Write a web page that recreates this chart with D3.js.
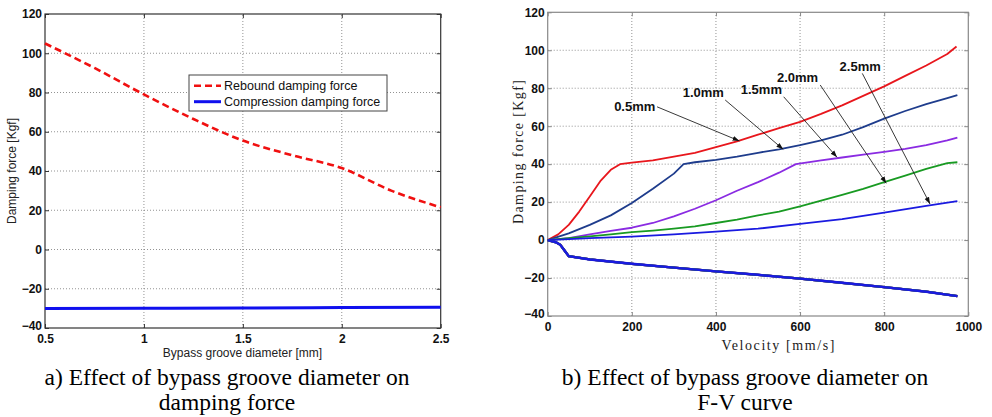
<!DOCTYPE html>
<html>
<head>
<meta charset="utf-8">
<script src="https://cdn.jsdelivr.net/npm/d3@7"></script>
<style>
  body { margin: 0; background: #fff; }
  svg { display: block; }
</style>
</head>
<body>
<script>
var width = 992,
    height = 417;

// -- left chart data (bypass groove diameter vs damping force)
var diameters = [0.5, 0.75, 1, 1.25, 1.5, 1.75, 2, 2.25, 2.5];
var rebound = [105, 92.5, 79, 66.5, 55.5, 48, 41.5, 30, 21.5];
var compDiameters = [0.5, 1, 1.5, 2, 2.5];
var compression = [-30, -29.9, -29.8, -29.6, -29.4];
var leftXTicks = [0.5, 1, 1.5, 2, 2.5];
var yTicks = [-40, -20, 0, 20, 40, 60, 80, 100, 120];

// -- right chart data (F-V curves)
var v05 = [0, 25, 50, 75, 100, 125, 150, 172, 200, 250, 300, 350, 400, 450, 500, 550, 600, 650, 700, 750, 800, 850, 900, 950, 972];
var f05 = [0, 3, 8, 15, 23, 31, 37, 40, 40.8, 42, 44, 46, 49, 52, 55.5, 59, 62.3, 66.5, 71, 76, 81, 86.5, 92, 98, 102];
var v10 = [0, 50, 100, 150, 200, 250, 300, 323, 350, 400, 450, 500, 550, 600, 650, 700, 750, 800, 850, 900, 950, 974];
var f10 = [0, 3.5, 8, 13, 19.5, 27, 35, 40, 41, 42.3, 44, 46, 47.8, 50, 52.5, 55.5, 59.5, 64, 68, 71.6, 74.8, 76.4];
var v15 = [0, 50, 100, 150, 200, 250, 300, 350, 400, 450, 500, 550, 590, 650, 700, 750, 800, 850, 900, 950, 974];
var f15 = [0, 1, 3, 4.8, 6.5, 9, 12.5, 16.5, 21, 26, 30.5, 35.5, 40, 42, 43.5, 45, 46.5, 48, 50, 52.5, 54];
var v20 = [0, 50, 100, 150, 200, 250, 300, 350, 400, 450, 500, 550, 600, 650, 700, 750, 800, 850, 900, 950, 974];
var f20 = [0, 1, 2, 3, 4.2, 5, 6, 7.2, 9, 10.8, 13, 15, 17.8, 20.8, 23.8, 27, 30.5, 34, 37.5, 40.5, 41];
var v25 = [0, 100, 200, 300, 400, 500, 600, 700, 800, 900, 974];
var f25 = [0, 1, 1.8, 3, 4.5, 6, 8.5, 11, 14.5, 18, 20.5];
var vComp = [0, 20, 30, 40, 50, 100, 200, 300, 400, 500, 600, 700, 800, 900, 974];
var fComp = [0, -1.2, -2.5, -5.5, -8.5, -10.2, -12.5, -14.5, -16.5, -18.3, -20.3, -22.5, -24.8, -27.2, -29.5];
var rightXTicks = [0, 200, 400, 600, 800, 1000];

// labels with arrows
var grooveLabels = ["0.5mm", "1.0mm", "1.5mm", "2.0mm", "2.5mm"];
var labelV = [158, 321, 459, 545, 694];
var labelF = [70.2, 77.6, 79.4, 85.8, 91.7];
var arrowFromV = [260, 422, 561, 648, 748];
var arrowFromF = [70.2, 73.8, 75.5, 81.7, 87.8];
var arrowToV = [456, 560, 688, 805, 909];
var arrowToF = [52.2, 47.8, 43.6, 29.9, 19];

var svg = d3.select("body").append("svg")
    .attr("width", width)
    .attr("height", height);

svg.append("defs").append("marker")
    .attr("id", "head")
    .attr("viewBox", "0 0 10 10")
    .attr("refX", 10).attr("refY", 5)
    .attr("markerWidth", 7).attr("markerHeight", 7)
    .attr("markerUnits", "userSpaceOnUse")
    .attr("orient", "auto")
  .append("path")
    .attr("d", "M0,1.5L10,5L0,8.5Z")
    .attr("fill", "#111");

function frame(g, x, y, xTicks, boxColor) {
  var x0 = x.range()[0], x1 = x.range()[1], y0 = y.range()[0], y1 = y.range()[1];

  // dotted grid
  g.append("g").selectAll("line").data(xTicks.slice(1, -1)).enter().append("line")
      .attr("x1", x).attr("x2", x).attr("y1", y0).attr("y2", y1)
      .attr("stroke", "#777").attr("stroke-width", 0.8).attr("stroke-dasharray", "1,2");
  g.append("g").selectAll("line").data(yTicks.slice(1, -1)).enter().append("line")
      .attr("y1", y).attr("y2", y).attr("x1", x0).attr("x2", x1)
      .attr("stroke", "#777").attr("stroke-width", 0.8).attr("stroke-dasharray", "1,2");

  g.append("g")
      .attr("transform", "translate(0," + y0 + ")")
      .call(d3.axisBottom(x).tickValues(xTicks).tickFormat(d3.format("")).tickSize(-4).tickPadding(6));
  var ay = g.append("g")
      .attr("transform", "translate(" + x0 + ",0)")
      .call(d3.axisLeft(y).tickValues(yTicks).tickSize(-4).tickPadding(3));
  g.append("g")
      .attr("transform", "translate(0," + y1 + ")")
      .call(d3.axisTop(x).tickValues(xTicks).tickFormat("").tickSize(-4));
  g.append("g")
      .attr("transform", "translate(" + x1 + ",0)")
      .call(d3.axisRight(y).tickValues(yTicks).tickFormat("").tickSize(-4));
  g.selectAll(".domain").remove();
  g.selectAll(".tick line").attr("stroke", boxColor);
  g.selectAll(".tick text")
      .style("font-family", "Arial, 'Liberation Sans', sans-serif")
      .style("font-weight", "bold")
      .style("font-size", "12px")
      .style("fill", "#111");
  ay.select(".tick text").attr("dy", "0.1em");

  g.append("rect")
      .attr("x", x0).attr("y", y1)
      .attr("width", x1 - x0).attr("height", y0 - y1)
      .attr("fill", "none").attr("stroke", boxColor).attr("stroke-width", 1.2);
}

// ---------------- left chart
var xL = d3.scaleLinear().domain([0.5, 2.5]).range([45, 440.7]);
var yL = d3.scaleLinear().domain([-40, 120]).range([328, 14]);
var gL = svg.append("g");
frame(gL, xL, yL, leftXTicks, "#333");

var lineL = d3.line().curve(d3.curveMonotoneX)
    .x(function(d) { return xL(d[0]); })
    .y(function(d) { return yL(d[1]); });

gL.append("path")
    .attr("d", lineL(d3.zip(compDiameters, compression)))
    .attr("fill", "none").attr("stroke", "#1010ee").attr("stroke-width", 3);
gL.append("path")
    .attr("d", lineL(d3.zip(diameters, rebound)))
    .attr("fill", "none").attr("stroke", "#f01010").attr("stroke-width", 2.6)
    .attr("stroke-dasharray", "7,4");

var leg = gL.append("g");
leg.append("rect").attr("x", 189).attr("y", 75).attr("width", 198).attr("height", 36)
    .attr("fill", "#fff").attr("stroke", "#444").attr("stroke-width", 1);
leg.append("line").attr("x1", 194).attr("x2", 221).attr("y1", 85.7).attr("y2", 85.7)
    .attr("stroke", "#f01010").attr("stroke-width", 2.6).attr("stroke-dasharray", "7,4");
leg.append("line").attr("x1", 194).attr("x2", 221).attr("y1", 101.7).attr("y2", 101.7)
    .attr("stroke", "#1010ee").attr("stroke-width", 3);
leg.selectAll("text").data(["Rebound damping force", "Compression damping force"]).enter().append("text")
    .attr("x", 224).attr("y", function(d, i) { return 85.7 + i * 16; })
    .attr("dy", "0.35em")
    .style("font", "12.5px Arial, 'Liberation Sans', sans-serif").style("fill", "#111")
    .text(function(d) { return d; });

gL.append("text")
    .attr("x", 242.5).attr("y", 357)
    .attr("text-anchor", "middle")
    .style("font", "12px Arial, 'Liberation Sans', sans-serif").style("fill", "#222")
    .text("Bypass groove diameter [mm]");
gL.append("text")
    .attr("transform", "translate(16,171) rotate(-90)")
    .attr("text-anchor", "middle")
    .style("font", "12px Arial, 'Liberation Sans', sans-serif").style("fill", "#222")
    .text("Damping force [Kgf]");

// ---------------- right chart
var xR = d3.scaleLinear().domain([0, 1000]).range([547.7, 968.3]);
var yR = d3.scaleLinear().domain([-40, 120]).range([316, 12.3]);
var gR = svg.append("g");
frame(gR, xR, yR, rightXTicks, "#888");

var lineR = d3.line()
    .x(function(d) { return xR(d[0]); })
    .y(function(d) { return yR(d[1]); });

var series = [
  { v: v05, f: f05, color: "#e8161c" },
  { v: v10, f: f10, color: "#1e3c8c" },
  { v: v15, f: f15, color: "#8a2be2" },
  { v: v20, f: f20, color: "#189a22" },
  { v: v25, f: f25, color: "#1a1ae0" }
];

series.forEach(function(s, i) {
  gR.append("path")
      .attr("d", lineR(d3.zip(vComp, fComp)))
      .attr("fill", "none").attr("stroke", s.color)
      .attr("stroke-width", i == series.length - 1 ? 2.4 : 2.2);
});
series.forEach(function(s) {
  gR.append("path")
      .attr("d", lineR(d3.zip(s.v, s.f)))
      .attr("fill", "none").attr("stroke", s.color).attr("stroke-width", 1.8)
      .attr("stroke-linejoin", "round");
});

grooveLabels.forEach(function(t, i) {
  gR.append("line")
      .attr("x1", xR(arrowFromV[i])).attr("y1", yR(arrowFromF[i]))
      .attr("x2", xR(arrowToV[i])).attr("y2", yR(arrowToF[i]))
      .attr("stroke", "#222").attr("stroke-width", 0.9)
      .attr("marker-end", "url(#head)");
  gR.append("text")
      .attr("x", xR(labelV[i])).attr("y", yR(labelF[i]))
      .attr("dy", "0.35em")
      .style("font", "bold 13px Arial, 'Liberation Sans', sans-serif").style("fill", "#111")
      .text(t);
});

gR.append("text")
    .attr("x", 778).attr("y", 350)
    .attr("text-anchor", "middle")
    .attr("textLength", 113).attr("lengthAdjust", "spacing")
    .style("font", "14px 'Liberation Serif', serif").style("fill", "#222")
    .text("Velocity [mm/s]");
gR.append("text")
    .attr("transform", "translate(523,152) rotate(-90)")
    .attr("text-anchor", "middle")
    .attr("textLength", 144).attr("lengthAdjust", "spacing")
    .style("font", "14px 'Liberation Serif', serif").style("fill", "#222")
    .text("Damping force [Kgf]");

// ---------------- captions
var captions = [
  { x: 227, lines: ["a) Effect of bypass groove diameter on", "damping force"] },
  { x: 745, lines: ["b) Effect of bypass groove diameter on", "F-V curve"] }
];
captions.forEach(function(c) {
  svg.append("g").selectAll("text").data(c.lines).enter().append("text")
      .attr("x", c.x).attr("y", function(d, i) { return 385 + i * 24.5; })
      .attr("text-anchor", "middle")
      .style("font", "23.5px 'Liberation Serif', 'Times New Roman', serif").style("fill", "#000")
      .text(function(d) { return d; });
});
</script>
</body>
</html>
